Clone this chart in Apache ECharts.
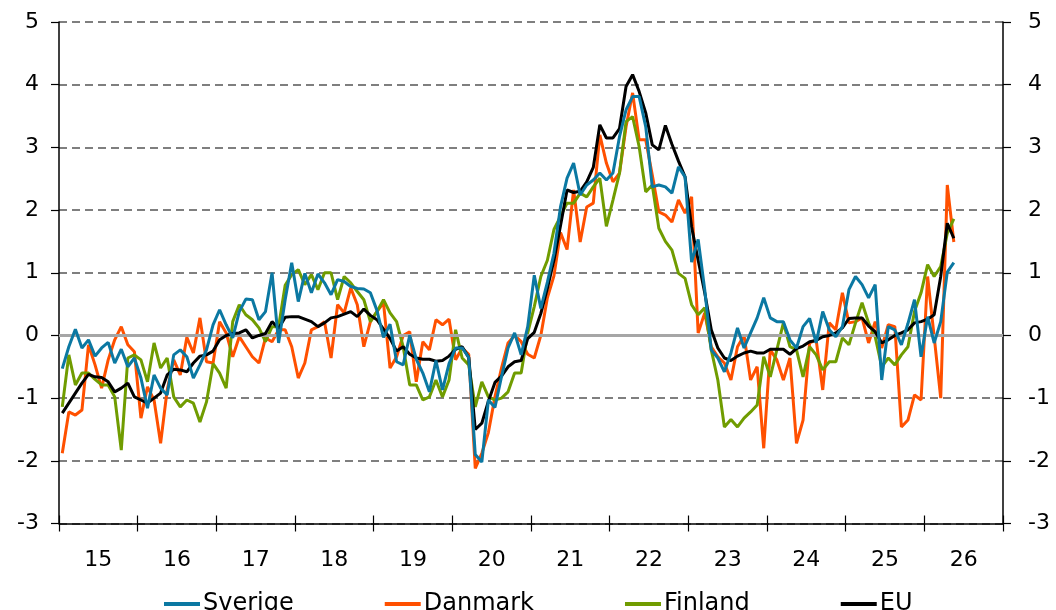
<!DOCTYPE html>
<html><head><meta charset="utf-8">
<script src="https://cdn.jsdelivr.net/npm/echarts@6/dist/echarts.min.js"></script>
<style>html,body{margin:0;padding:0;background:#fff}#c{width:1056px;height:610px}</style>
</head><body><div id="c"></div>
<script>
const yearLabels = ['15','16','17','18','19','20','21','22','23','24','25','26'];
const yTicks = [-3,-2,-1,0,1,2,3,4,5];
const seriesNames = ['Sverige','Danmark','Finland','EU'];

const sverige = [-0.53,-0.18,0.1,-0.2,-0.07,-0.33,-0.2,-0.11,-0.44,-0.22,-0.5,-0.36,
-0.68,-1.16,-0.63,-0.84,-0.95,-0.31,-0.23,-0.34,-0.68,-0.47,-0.23,0.17,
0.41,0.17,-0.04,0.38,0.58,0.57,0.25,0.38,1.0,-0.12,0.57,1.16,
0.54,0.99,0.68,0.98,0.84,0.65,0.89,0.86,0.78,0.75,0.74,0.68,
0.4,-0.03,0.18,-0.42,-0.47,0.0,-0.38,-0.6,-0.9,-0.4,-0.87,-0.45,
-0.2,-0.2,-0.35,-1.9,-2.02,-1.03,-1.15,-0.66,-0.2,0.04,-0.31,0.14,
0.96,0.43,0.85,1.31,2.05,2.51,2.75,2.24,2.4,2.48,2.59,2.48,
2.59,3.17,3.6,3.81,3.81,3.33,2.37,2.4,2.37,2.27,2.69,2.53,
1.17,1.53,0.73,-0.23,-0.36,-0.58,-0.28,0.12,-0.2,0.04,0.28,0.6,
0.28,0.22,0.22,-0.07,-0.2,0.14,0.27,-0.12,0.38,0.09,-0.02,0.14,
0.73,0.94,0.81,0.6,0.81,-0.71,0.14,0.09,-0.15,0.19,0.57,-0.34,
0.3,-0.12,0.22,1.01,1.16];

const danmark = [-1.88,-1.22,-1.27,-1.19,-0.15,-0.47,-0.84,-0.39,-0.07,0.14,-0.15,-0.26,
-1.32,-0.82,-1.03,-1.72,-0.87,-0.39,-0.63,-0.03,-0.28,0.28,-0.42,-0.44,
0.22,0.04,-0.34,-0.02,-0.18,-0.34,-0.44,-0.04,-0.1,0.09,0.09,-0.18,
-0.68,-0.44,0.09,0.14,0.22,-0.36,0.49,0.36,0.76,0.49,-0.18,0.22,
0.38,0.52,-0.52,-0.34,0.0,0.06,-0.74,-0.1,-0.23,0.25,0.17,0.26,
-0.39,-0.2,-0.3,-2.12,-1.88,-1.55,-0.98,-0.52,-0.12,0.0,-0.1,-0.3,
-0.36,0.0,0.6,0.95,1.64,1.37,2.32,1.49,2.05,2.11,3.2,2.75,
2.45,2.59,3.33,3.87,3.12,3.12,2.56,1.97,1.92,1.81,2.16,1.95,
2.21,0.04,0.36,-0.18,-0.34,-0.44,-0.71,-0.18,0.0,-0.71,-0.5,-1.8,
-0.23,-0.39,-0.71,-0.36,-1.72,-1.35,-0.12,-0.07,-0.87,0.2,0.09,0.68,
0.2,0.22,0.28,-0.12,0.22,-0.2,0.17,0.14,-1.46,-1.35,-0.95,-1.03,
0.94,-0.02,-1.0,2.4,1.49];

const finland = [-1.14,-0.31,-0.79,-0.6,-0.6,-0.7,-0.79,-0.79,-0.98,-1.83,-0.36,-0.31,
-0.39,-0.74,-0.12,-0.52,-0.36,-0.98,-1.14,-1.03,-1.08,-1.38,-1.06,-0.45,
-0.6,-0.84,0.22,0.49,0.33,0.25,0.12,-0.1,0.14,0.14,0.8,0.97,
1.05,0.81,0.97,0.73,1.0,1.0,0.57,0.94,0.84,0.7,0.57,0.22,
0.38,0.57,0.36,0.22,-0.18,-0.79,-0.79,-1.03,-0.98,-0.71,-0.98,-0.71,
0.09,-0.36,-0.47,-1.14,-0.74,-0.98,-1.03,-1.0,-0.9,-0.6,-0.6,0.04,
0.46,0.94,1.2,1.69,1.9,2.11,2.11,2.27,2.21,2.37,2.51,1.74,
2.16,2.59,3.41,3.49,3.01,2.29,2.4,1.71,1.5,1.36,0.99,0.91,
0.49,0.33,0.44,-0.23,-0.71,-1.46,-1.34,-1.46,-1.32,-1.22,-1.11,-0.34,
-0.66,-0.23,0.2,-0.18,-0.23,-0.66,-0.18,-0.31,-0.55,-0.42,-0.42,-0.04,
-0.15,0.2,0.52,0.2,-0.02,-0.5,-0.36,-0.47,-0.31,-0.18,0.38,0.68,
1.13,0.94,1.1,1.63,1.86];

const eu = [-1.24,-1.08,-0.92,-0.76,-0.62,-0.66,-0.67,-0.74,-0.9,-0.84,-0.76,-0.98,
-1.03,-1.08,-1.0,-0.92,-0.63,-0.54,-0.55,-0.58,-0.44,-0.33,-0.31,-0.25,
-0.07,0.0,0.03,0.04,0.09,-0.04,0.0,0.03,0.22,0.11,0.29,0.3,
0.3,0.26,0.22,0.14,0.2,0.28,0.3,0.34,0.38,0.3,0.42,0.32,
0.25,0.1,-0.05,-0.25,-0.18,-0.3,-0.36,-0.38,-0.38,-0.41,-0.4,-0.33,
-0.22,-0.18,-0.35,-1.5,-1.4,-1.05,-0.75,-0.65,-0.5,-0.42,-0.4,-0.05,
0.05,0.35,0.75,1.2,1.75,2.32,2.28,2.3,2.45,2.68,3.36,3.15,
3.15,3.3,3.97,4.16,3.89,3.55,3.04,2.96,3.35,3.05,2.78,2.53,
1.73,1.2,0.68,0.09,-0.2,-0.36,-0.4,-0.33,-0.28,-0.25,-0.28,-0.28,
-0.22,-0.22,-0.22,-0.3,-0.21,-0.17,-0.1,-0.08,-0.02,0.0,0.04,0.12,
0.27,0.28,0.28,0.15,0.06,-0.12,-0.07,0.0,0.04,0.09,0.2,0.22,
0.26,0.33,0.94,1.79,1.55];

const months = [];
for (let y = 2015; y <= 2026; y++) for (let m = 1; m <= 12; m++) months.push(y + '-' + (m < 10 ? '0' + m : m));

const colors = {Sverige:'#0B78A2', Danmark:'#FF5000', Finland:'#709C00', EU:'#000000'};
const FONT = 'DejaVu Sans';

const chart = echarts.init(document.getElementById('c'), null, {renderer:'canvas'});
function line(name, data, z) {
  return {name, type:'line', data, xAxisIndex:1, yAxisIndex:0, symbol:'none', z,
    lineStyle:{color:colors[name], width:3}, itemStyle:{color:colors[name]}, animation:false};
}
chart.setOption({
  animation:false,
  textStyle:{fontFamily:FONT},
  grid:{left:59, right:53, top:22, bottom:86.5, containLabel:false},
  legend:{
    data:seriesNames, left:159, top:587, itemGap:91, itemWidth:36, itemHeight:4, icon:'rect',
    textStyle:{fontFamily:FONT, fontSize:24, color:'#000', padding:[0,0,0,-2]}
  },
  xAxis:[
    {type:'category', data:yearLabels, boundaryGap:true, position:'bottom',
     axisLine:{show:true, onZero:false, lineStyle:{color:'#000', width:1.5}},
     axisTick:{show:true, inside:false, length:8, alignWithLabel:false, lineStyle:{color:'#000', width:1.2}},
     axisLabel:{fontFamily:FONT, fontSize:22, color:'#000', margin:26},
     splitLine:{show:false}},
    {type:'category', data:months, boundaryGap:true, position:'bottom',
     axisLine:{show:false, onZero:false},
     axisTick:{show:true, inside:true, length:8, interval:(i)=> i % 12 === 0, lineStyle:{color:'#000', width:1.2}},
     axisLabel:{show:false}, splitLine:{show:false}}
  ],
  yAxis:[
    {type:'value', min:yTicks[0], max:yTicks[yTicks.length-1], interval:1, position:'left',
     axisLine:{show:true, lineStyle:{color:'#000', width:1.5}},
     axisTick:{show:true, inside:false, length:8, lineStyle:{color:'#000', width:1.2}},
     axisLabel:{fontFamily:FONT, fontSize:22, color:'#000', margin:20},
     splitLine:{show:true, lineStyle:{color:'#7f7f7f', width:2, type:[8,5]}}},
    {type:'value', min:yTicks[0], max:yTicks[yTicks.length-1], interval:1, position:'right',
     axisLine:{show:true, lineStyle:{color:'#000', width:1.5}},
     axisTick:{show:true, inside:false, length:8, lineStyle:{color:'#000', width:1.2}},
     axisLabel:{fontFamily:FONT, fontSize:22, color:'#000', margin:25},
     splitLine:{show:false}}
  ],
  series:[
    {type:'line', data:[], xAxisIndex:1, yAxisIndex:0, z:1, silent:true,
     markLine:{silent:true, symbol:['none','none'], label:{show:false}, animation:false,
       lineStyle:{color:'#a6a6a6', width:3, type:'solid'}, data:[{yAxis:0}]}},
    line('Danmark', danmark, 3),
    line('Finland', finland, 4),
    line('EU', eu, 5),
    line('Sverige', sverige, 6)
  ]
});
</script></body></html>
